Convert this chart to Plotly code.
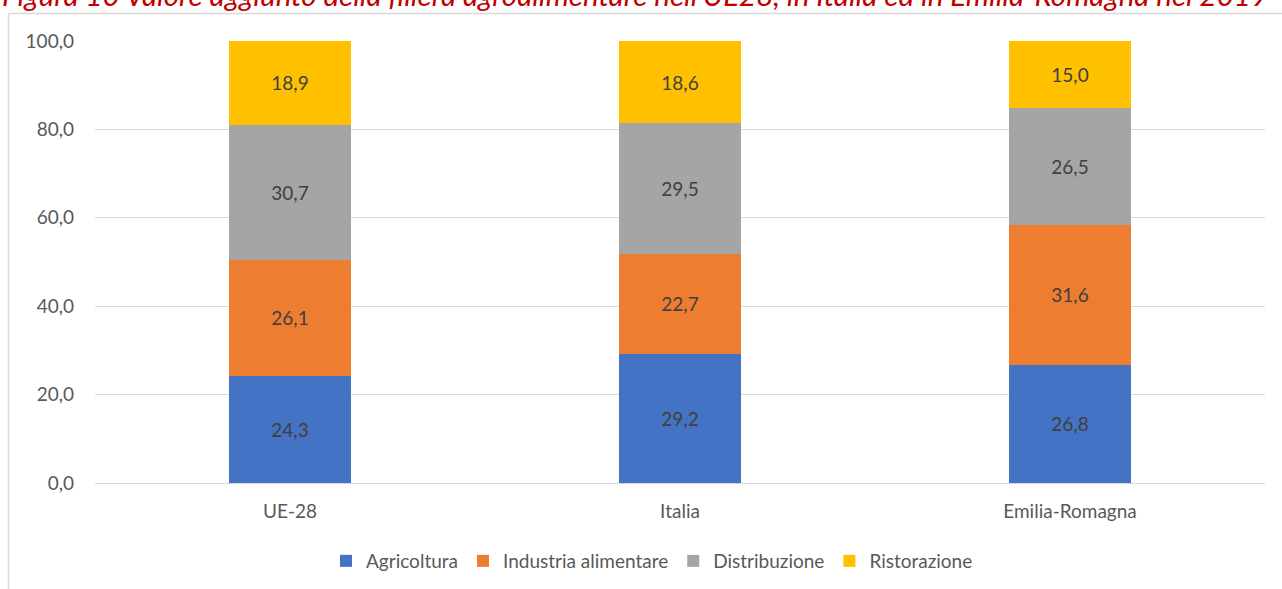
import plotly.graph_objects as go

categories = ["UE-28", "Italia", "Emilia-Romagna"]
series_names = ["Agricoltura", "Industria alimentare", "Distribuzione", "Ristorazione"]
agricoltura = [24.3, 29.2, 26.8]
industria = [26.1, 22.7, 31.6]
distribuzione = [30.7, 29.5, 26.5]
ristorazione = [18.9, 18.6, 15.0]
colors = ["#4472C4", "#ED7D31", "#A5A5A5", "#FFC000"]
title_text = "Figura 10 Valore aggiunto della filiera agroalimentare nell'UE28, in Italia ed in Emilia-Romagna nel 2019"

FONT = "Lato, 'Noto Sans', sans-serif"
TXT = "#595959"
FS = 19

W, H = 1282, 589
ML, MR, MT, MB = 95, 17, 41, 106
PW, PH = W - ML - MR, H - MT - MB

fig = go.Figure()
for name, vals, col in zip(series_names, [agricoltura, industria, distribuzione, ristorazione], colors):
    fig.add_trace(go.Bar(
        x=categories, y=vals, name=name, marker=dict(color=col, line=dict(width=0)),
        text=[f"{v:.1f}".replace(".", ",") for v in vals],
        textposition="inside", insidetextanchor="middle",
        textfont=dict(family=FONT, size=FS, color="#404040"),
        hoverinfo="skip",
    ))

def px_x(p):
    return (p - ML) / PW

def px_y(p):
    return (H - MB - p) / PH

fig.update_layout(
    width=W, height=H,
    barmode="stack", bargap=0.687,
    separators=",.",
    paper_bgcolor="white", plot_bgcolor="white",
    margin=dict(l=ML, r=MR, t=MT, b=MB, pad=0, autoexpand=False),
    font=dict(family=FONT, size=FS, color=TXT),
    showlegend=True,
    legend=dict(orientation="h", xref="container", yref="container",
                x=652 / W, xanchor="center", y=1 - 561 / H, yanchor="middle",
                font=dict(family=FONT, size=FS, color=TXT), traceorder="normal",
                itemwidth=30, bgcolor="rgba(0,0,0,0)"),
    yaxis=dict(range=[0, 100], tickvals=[0, 20, 40, 60, 80, 100], tickformat=".1f",
               showgrid=True, gridcolor="#D9D9D9", gridwidth=1, zeroline=False,
               showline=False, ticks="", ticklabelstandoff=20, automargin=False,
               tickfont=dict(family=FONT, size=FS, color=TXT)),
    xaxis=dict(showgrid=False, showline=True, linecolor="#D9D9D9", linewidth=1, ticks="",
               automargin=False,
               tickfont=dict(family=FONT, size=FS, color=TXT), ticklabelstandoff=11),
    shapes=[
        dict(type="line", xref="paper", yref="paper", x0=px_x(8.5), x1=px_x(8.5),
             y0=px_y(13.5), y1=px_y(600), line=dict(color="#D9D9D9", width=1.5), layer="below"),
        dict(type="line", xref="paper", yref="paper", x0=px_x(8.5), x1=px_x(1300),
             y0=px_y(13.5), y1=px_y(13.5), line=dict(color="#D9D9D9", width=1.5), layer="below"),
    ],
    annotations=[dict(text=title_text, xref="paper", yref="paper", x=px_x(635), y=px_y(14),
                      xanchor="center", yanchor="bottom", showarrow=False,
                      font=dict(family=FONT, size=29.5, color="#C00000", style="italic"))],
)

fig.write_html("out.html", config={"displayModeBar": False},
               post_script="document.body.style.margin='0';")
